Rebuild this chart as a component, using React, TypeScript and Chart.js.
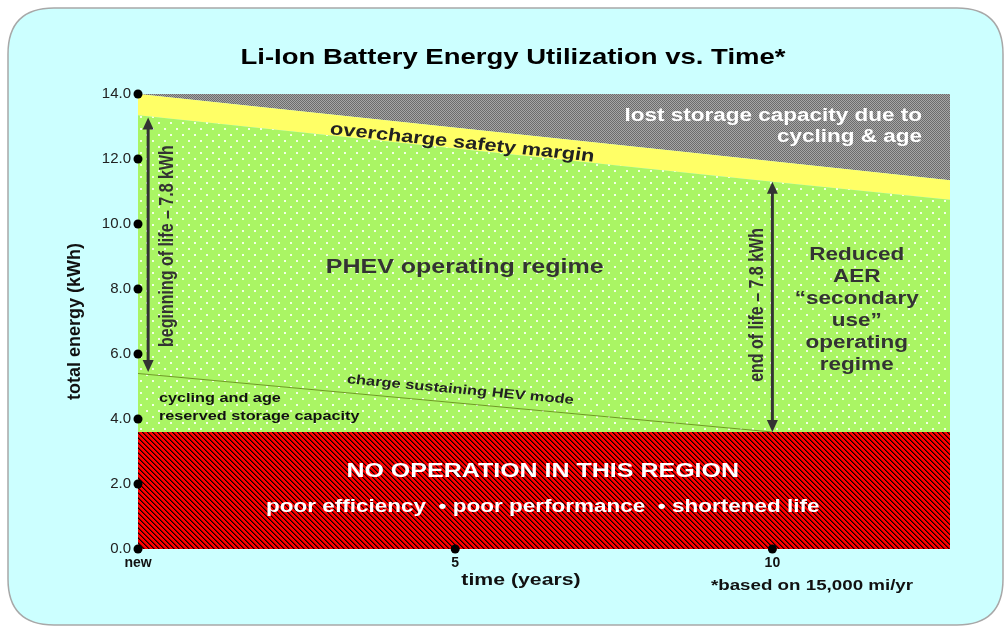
import { useEffect, useRef } from "react";
import { Chart, registerables } from "chart.js";

Chart.register(...registerables);

const FONT = "Arial, 'Liberation Sans', Helvetica, sans-serif";
const STRETCH = 1.25; // reference text is horizontally wide

// ---- data ----
const years = [0, 10, 12.8];
const noOperationTop = [3.6, 3.6, 3.6];
const reservedTop = [5.4, 3.6, 3.6];
const phevTop = [13.35, 11.3, 10.75];
const marginTop = [14.0, 11.93, 11.35];
const capacityTop = [14, 14, 14];

const yTicks = [0, 2, 4, 6, 8, 10, 12, 14];
const xTicks = [0, 5, 10];
const xTickLabels = ["new", "5", "10"];

// arrows: x position (years), from / to (kWh)
const arrowX = [0.16, 10];
const arrowFrom = [5.45, 3.6];
const arrowTo = [13.28, 11.3];

const TITLE = "Li-Ion Battery Energy Utilization vs. Time*";
const X_TITLE = "time (years)";
const Y_TITLE = "total energy (kWh)";
const FOOTNOTE = "*based on 15,000 mi/yr";

function makePattern(kind: string): CanvasPattern | string {
  const c = document.createElement("canvas");
  const ctx = c.getContext("2d");
  if (!ctx) return "#aaf564";
  if (kind === "green") {
    c.width = 12;
    c.height = 12;
    ctx.fillStyle = "rgb(170,245,100)";
    ctx.fillRect(0, 0, 12, 12);
    ctx.fillStyle = "rgba(245,255,235,0.95)";
    ctx.fillRect(2, 2, 2, 2);
    ctx.fillRect(8, 8, 2, 2);
  } else if (kind === "red") {
    const s = 5;
    c.width = s;
    c.height = s;
    ctx.fillStyle = "#ff0000";
    ctx.fillRect(0, 0, s, s);
    for (let yy = 0; yy < s; yy++) {
      for (let xx = 0; xx < s; xx++) {
        const d = (((xx - yy) % s) + s) % s;
        if (d === 0) {
          ctx.fillStyle = "#140000";
          ctx.fillRect(xx, yy, 1, 1);
        } else if (d === 1) {
          ctx.fillStyle = "#7a0000";
          ctx.fillRect(xx, yy, 1, 1);
        }
      }
    }
  } else {
    c.width = 2;
    c.height = 2;
    ctx.fillStyle = "#a6a6a6";
    ctx.fillRect(0, 0, 2, 2);
    ctx.fillStyle = "#6c6c6c";
    ctx.fillRect(0, 0, 1, 1);
    ctx.fillRect(1, 1, 1, 1);
  }
  return ctx.createPattern(c, "repeat") || "#888";
}

function toPts(ys: number[]) {
  return years.map((x, i) => ({ x, y: ys[i] }));
}

function drawText(
  ctx: CanvasRenderingContext2D,
  str: string,
  x: number,
  y: number,
  font: string,
  color: string,
  align: CanvasTextAlign = "center",
  rotation = 0
) {
  ctx.save();
  ctx.translate(x, y);
  ctx.scale(STRETCH, 1);
  ctx.rotate(rotation);
  ctx.font = font;
  ctx.fillStyle = color;
  ctx.textAlign = align;
  ctx.textBaseline = "middle";
  ctx.fillText(str, 0, 0);
  ctx.restore();
}

function drawArrow(ctx: CanvasRenderingContext2D, x: number, y1: number, y2: number) {
  const head = 12;
  const hw = 5.5;
  ctx.save();
  ctx.strokeStyle = "#333333";
  ctx.fillStyle = "#333333";
  ctx.lineWidth = 3;
  ctx.beginPath();
  ctx.moveTo(x, y1 - head + 2);
  ctx.lineTo(x, y2 + head - 2);
  ctx.stroke();
  ctx.beginPath();
  ctx.moveTo(x, y1);
  ctx.lineTo(x - hw, y1 - head);
  ctx.lineTo(x + hw, y1 - head);
  ctx.closePath();
  ctx.fill();
  ctx.beginPath();
  ctx.moveTo(x, y2);
  ctx.lineTo(x - hw, y2 + head);
  ctx.lineTo(x + hw, y2 + head);
  ctx.closePath();
  ctx.fill();
  ctx.restore();
}

const backgroundPlugin = {
  id: "panelBackground",
  beforeDraw(chart: any) {
    const ctx = chart.ctx as CanvasRenderingContext2D;
    ctx.save();
    ctx.fillStyle = "#ffffff";
    ctx.fillRect(0, 0, chart.width, chart.height);
    const x = 8, y = 8, w = 995, h = 617, r = 46;
    ctx.beginPath();
    ctx.moveTo(x + r, y);
    ctx.lineTo(x + w - r, y);
    ctx.quadraticCurveTo(x + w, y, x + w, y + r);
    ctx.lineTo(x + w, y + h - r);
    ctx.quadraticCurveTo(x + w, y + h, x + w - r, y + h);
    ctx.lineTo(x + r, y + h);
    ctx.quadraticCurveTo(x, y + h, x, y + h - r);
    ctx.lineTo(x, y + r);
    ctx.quadraticCurveTo(x, y, x + r, y);
    ctx.closePath();
    ctx.fillStyle = "#ccffff";
    ctx.fill();
    ctx.strokeStyle = "#a8a8a8";
    ctx.lineWidth = 1.5;
    ctx.stroke();
    ctx.restore();
  },
};

const annotationPlugin = {
  id: "annotations",
  afterDatasetsDraw(chart: any) {
    const ctx = chart.ctx as CanvasRenderingContext2D;
    const xs = chart.scales.x;
    const ys = chart.scales.y;
    const X = (v: number) => xs.getPixelForValue(v);
    const Y = (v: number) => ys.getPixelForValue(v);

    for (let i = 0; i < arrowX.length; i++) {
      drawArrow(ctx, X(arrowX[i]), Y(arrowFrom[i]), Y(arrowTo[i]));
    }

    const angTop = Math.atan2(Y(phevTop[2]) - Y(phevTop[0]), (X(years[2]) - X(years[0])) / STRETCH);
    const angHev = Math.atan2(Y(reservedTop[1]) - Y(reservedTop[0]), (X(years[1]) - X(years[0])) / STRETCH);

    const b = (s: number) => `bold ${s}px ${FONT}`;

    drawText(ctx, "lost storage capacity due to", X(12.36), Y(13.32), b(18), "#ffffff", "right");
    drawText(ctx, "cycling & age", X(12.36), Y(12.68), b(18), "#ffffff", "right");
    drawText(ctx, "overcharge safety margin", X(5.11), Y(12.49), b(17.5), "#222222", "center", angTop);
    drawText(ctx, "PHEV operating regime", X(5.15), Y(8.65), b(20), "#333333");

    const reduced = ["Reduced", "AER", "\u201csecondary", "use\u201d", "operating", "regime"];
    reduced.forEach((s, i) => {
      drawText(ctx, s, X(11.33), Y(9.05 - i * 0.675), b(18), "#333333");
    });

    drawText(ctx, "beginning of life \u2013 7.8 kWh", X(0.47), Y(9.32), b(16), "#333333", "center", -Math.PI / 2);
    drawText(ctx, "end of life \u2013 7.8 kWh", X(9.76), Y(7.51), b(16), "#333333", "center", -Math.PI / 2);

    drawText(ctx, "charge sustaining HEV mode", X(5.08), Y(4.89), b(13.2), "#222222", "center", angHev);
    drawText(ctx, "cycling and age", X(0.33), Y(4.62), b(13), "#111111", "left");
    drawText(ctx, "reserved storage capacity", X(0.33), Y(4.09), b(13), "#111111", "left");

    drawText(ctx, "NO OPERATION IN THIS REGION", X(6.38), Y(2.4), b(20), "#ffffff");
    drawText(ctx, "poor efficiency  \u2022 poor performance  \u2022 shortened life", X(6.38), Y(1.29), b(18), "#ffffff");
  },
  afterDraw(chart: any) {
    const ctx = chart.ctx as CanvasRenderingContext2D;
    drawText(ctx, TITLE, 513, 58, `bold 22px ${FONT}`, "#000000");
    drawText(ctx, X_TITLE, 521, 580, `bold 17px ${FONT}`, "#111111");
    drawText(ctx, FOOTNOTE, 812, 586, `bold 15px ${FONT}`, "#111111");
  },
};

export default function App() {
  const ref = useRef<HTMLCanvasElement | null>(null);

  useEffect(() => {
    if (!ref.current) return;
    const green = makePattern("green");
    const red = makePattern("red");
    const gray = makePattern("gray");

    const axisDots = [
      ...yTicks.map((v) => ({ x: 0, y: v })),
      ...xTicks.filter((v) => v > 0).map((v) => ({ x: v, y: 0 })),
    ];

    const areaBase = {
      type: "line" as const,
      pointRadius: 0,
      tension: 0,
      borderWidth: 0,
      borderColor: "rgba(0,0,0,0)",
    };

    const chart = new Chart(ref.current, {
      type: "line",
      data: {
        datasets: [
          { ...areaBase, label: "no operation", data: toPts(noOperationTop), fill: "origin", backgroundColor: red as any },
          {
            ...areaBase,
            label: "reserved",
            data: toPts(reservedTop),
            fill: "-1",
            backgroundColor: green as any,
            borderWidth: 1.2,
            borderColor: "#6f9a22",
            segment: {
              borderColor: (c: any) => (c.p0DataIndex >= 1 ? "rgba(0,0,0,0)" : "#6f9a22"),
            },
          },
          { ...areaBase, label: "PHEV", data: toPts(phevTop), fill: "-1", backgroundColor: green as any },
          { ...areaBase, label: "margin", data: toPts(marginTop), fill: "-1", backgroundColor: "#ffff66" },
          { ...areaBase, label: "lost", data: toPts(capacityTop), fill: "-1", backgroundColor: gray as any },
          {
            type: "scatter" as const,
            label: "ticks",
            data: axisDots,
            pointRadius: 4.5,
            pointBackgroundColor: "#000000",
            pointBorderColor: "#000000",
            pointBorderWidth: 0,
            clip: false as any,
            order: -1,
          } as any,
        ],
      },
      options: {
        animation: false,
        responsive: false,
        devicePixelRatio: 1,
        layout: { padding: { top: 94, right: 55, left: 0, bottom: 0 } },
        plugins: {
          legend: { display: false },
          tooltip: { enabled: false },
          title: { display: false },
        },
        scales: {
          x: {
            type: "linear",
            min: 0,
            max: 12.8,
            grid: { display: false, drawTicks: false },
            border: { display: false },
            afterBuildTicks: (s: any) => {
              s.ticks = xTicks.map((v) => ({ value: v }));
            },
            afterFit: (s: any) => {
              s.height = 77;
            },
            ticks: {
              autoSkip: false,
              maxRotation: 0,
              padding: 6,
              color: "#111111",
              font: { family: FONT, size: 14, weight: "bold" },
              callback: (v: any) => {
                const i = xTicks.indexOf(Number(v));
                return i >= 0 ? xTickLabels[i] : "";
              },
            },
          },
          y: {
            min: 0,
            max: 14,
            grid: { display: false, drawTicks: false },
            border: { display: false },
            afterBuildTicks: (s: any) => {
              s.ticks = yTicks.map((v) => ({ value: v }));
            },
            afterFit: (s: any) => {
              s.width = 138;
            },
            ticks: {
              padding: 7,
              color: "#222222",
              font: { family: FONT, size: 15 },
              callback: (v: any) => Number(v).toFixed(1),
            },
            title: {
              display: true,
              text: Y_TITLE,
              color: "#111111",
              font: { family: FONT, size: 18, weight: "bold", lineHeight: 1.2 },
              padding: { top: 64, bottom: 0 },
            },
          },
        },
      },
      plugins: [backgroundPlugin, annotationPlugin],
    });
    return () => chart.destroy();
  }, []);

  return (
    <div style={{ position: "fixed", left: 0, top: 0, width: 1005, height: 626 }}>
      <canvas ref={ref} width={1005} height={626} style={{ width: 1005, height: 626, display: "block" }} />
    </div>
  );
}
